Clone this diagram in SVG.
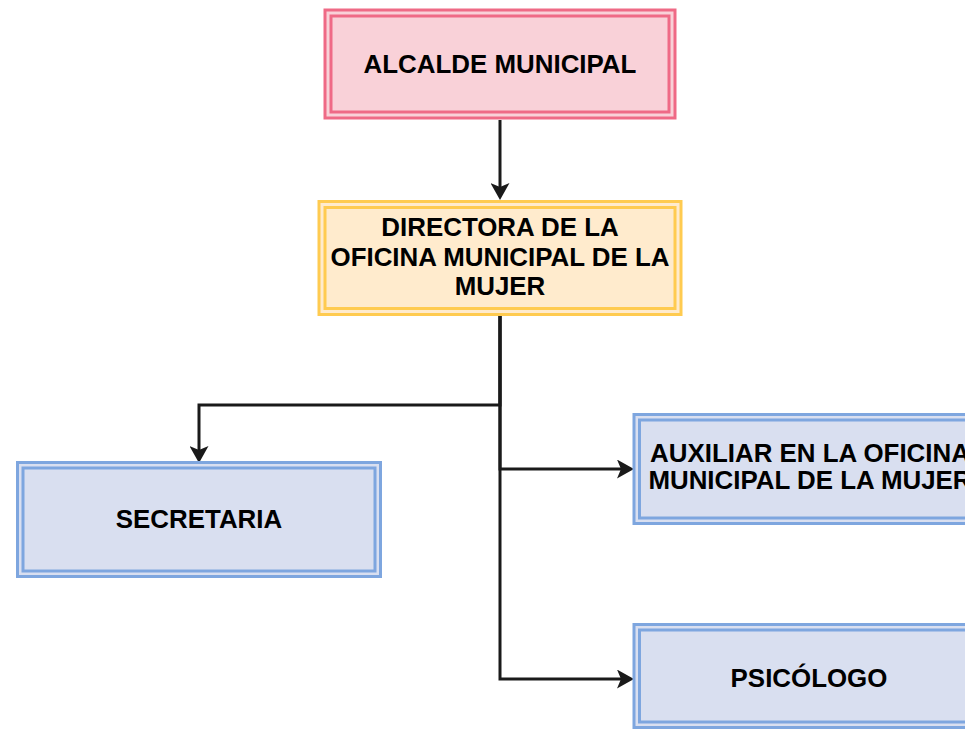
<svg xmlns="http://www.w3.org/2000/svg" width="965" height="730" viewBox="0 0 965 730">
<style>
text{font-family:"Liberation Sans",Arial,sans-serif;font-weight:bold;font-size:25.9px;fill:#000;text-anchor:middle}
.pink{fill:#f9d1d8;stroke:#ef6a86;stroke-width:3}
.pinki{fill:none;stroke:#ef6a86;stroke-width:3}
.yel{fill:#ffebcd;stroke:#ffcb50;stroke-width:3}
.yeli{fill:none;stroke:#ffcb50;stroke-width:3}
.blue{fill:#d9dff0;stroke:#7ea6df;stroke-width:3}
.bluei{fill:none;stroke:#7ea6df;stroke-width:3}
.edge{fill:none;stroke:#1a1a1a;stroke-width:3;marker-end:url(#arr)}
</style>
<defs>
<marker id="arr" viewBox="0 0 17 19" refX="6" refY="9.5" markerWidth="17" markerHeight="19" markerUnits="userSpaceOnUse" orient="auto">
<path d="M0,0 L17,9.5 L0,19 L4,9.5 Z" fill="#1a1a1a"/>
</marker>
</defs>
<rect width="965" height="730" fill="#fff"/>
<g id="connectors">
<path class="edge" d="M500,120 V189"/>
<path class="edge" d="M500,316 V405 H199 V452"/>
<path class="edge" d="M500,316 V469 H623"/>
<path class="edge" d="M500,316 V679 H623"/>
</g>
<g id="alcalde">
<rect class="pink" x="325" y="10" width="350" height="108"/>
<rect class="pinki" x="331" y="16" width="338" height="96"/>
<text x="500" y="73.3">ALCALDE MUNICIPAL</text>
</g>
<g id="directora">
<rect class="yel" x="319" y="201.5" width="362" height="113"/>
<rect class="yeli" x="325" y="207.5" width="350" height="101"/>
<text x="500" y="235.7">DIRECTORA DE LA</text>
<text x="500" y="265.5">OFICINA MUNICIPAL DE LA</text>
<text x="500" y="294.5">MUJER</text>
</g>
<g id="secretaria">
<rect class="blue" x="17.5" y="462.5" width="363" height="114"/>
<rect class="bluei" x="23" y="468" width="352" height="103"/>
<text x="199" y="528">SECRETARIA</text>
</g>
<g id="auxiliar">
<rect class="blue" x="634" y="414.5" width="353" height="109"/>
<rect class="bluei" x="639.5" y="420" width="342" height="98"/>
<text x="810" y="461.5">AUXILIAR EN LA OFICINA</text>
<text x="810" y="488.5">MUNICIPAL DE LA MUJER</text>
</g>
<g id="psicologo">
<rect class="blue" x="634" y="624.5" width="353" height="103"/>
<rect class="bluei" x="639.5" y="630" width="342" height="92"/>
<text x="809" y="686.5">PSICÓLOGO</text>
</g>
</svg>
